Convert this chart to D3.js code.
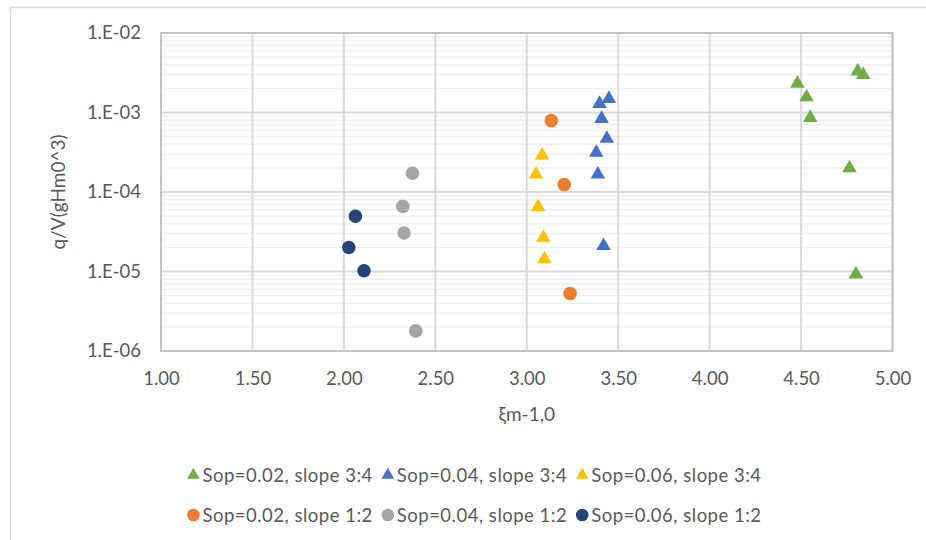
<!DOCTYPE html>
<html>
<head>
<meta charset="utf-8">
<script src="https://cdn.jsdelivr.net/npm/d3@7"></script>
<style>
  body { margin: 0; background: #fff; }
  text { font-family: Lato, "Noto Sans", sans-serif; fill: #595959; }
</style>
</head>
<body>
<div id="chart"></div>
<script>
// Daten
const seriesNames = [
  "Sop=0.02, slope 3:4", "Sop=0.04, slope 3:4", "Sop=0.06, slope 3:4",
  "Sop=0.02, slope 1:2", "Sop=0.04, slope 1:2", "Sop=0.06, slope 1:2"
];
const seriesColors = ["#70AD47", "#4472C4", "#FFC000", "#ED7D31", "#A5A5A5", "#264478"];
const seriesShapes = ["triangle", "triangle", "triangle", "circle", "circle", "circle"];

const sop02s34X = [4.48, 4.53, 4.55, 4.765, 4.80, 4.81, 4.84];
const sop02s34Y = [2.32e-3, 1.56e-3, 8.6e-4, 2.0e-4, 9.25e-6, 3.31e-3, 2.98e-3];
const sop04s34X = [3.398, 3.449, 3.409, 3.438, 3.38, 3.389, 3.42];
const sop04s34Y = [1.29e-3, 1.49e-3, 8.36e-4, 4.69e-4, 3.13e-4, 1.67e-4, 2.1e-5];
const sop06s34X = [3.084, 3.051, 3.062, 3.091, 3.097];
const sop06s34Y = [2.89e-4, 1.67e-4, 6.48e-5, 2.67e-5, 1.43e-5];
const sop02s12X = [3.134, 3.205, 3.237];
const sop02s12Y = [7.9e-4, 1.24e-4, 5.3e-6];
const sop04s12X = [2.375, 2.322, 2.329, 2.393];
const sop04s12Y = [1.72e-4, 6.6e-5, 3.05e-5, 1.79e-6];
const sop06s12X = [2.063, 2.027, 2.11];
const sop06s12Y = [4.95e-5, 2.0e-5, 1.02e-5];

const xTicks = [1, 1.5, 2, 2.5, 3, 3.5, 4, 4.5, 5];
const yTicks = [1e-6, 1e-5, 1e-4, 1e-3, 1e-2];

const allX = [sop02s34X, sop04s34X, sop06s34X, sop02s12X, sop04s12X, sop06s12X];
const allY = [sop02s34Y, sop04s34Y, sop06s34Y, sop02s12Y, sop04s12Y, sop06s12Y];

const series = seriesNames.map((name, i) => ({
  name: name,
  color: seriesColors[i],
  shape: seriesShapes[i],
  values: allX[i].map((x, j) => ({ x: x, y: allY[i][j] }))
}));

const width = 926, height = 540;
const svg = d3.select("#chart").append("svg")
  .attr("width", width)
  .attr("height", height);

// Rahmen des Diagramms
svg.append("rect")
  .attr("x", 10.5).attr("y", 7.5)
  .attr("width", 940).attr("height", 560)
  .attr("fill", "none")
  .attr("stroke", "#D9D9D9")
  .attr("stroke-width", 1.5);

const x = d3.scaleLinear().domain([1, 5]).range([161, 892.5]);
const y = d3.scaleLog().domain([1e-6, 1e-2]).range([351, 33]);

// Nebengitter
const minor = [];
for (let e = -6; e < -2; e++) {
  for (let m = 2; m <= 9; m++) minor.push(m * Math.pow(10, e));
}
svg.append("g").selectAll("line")
  .data(minor)
  .enter().append("line")
  .attr("x1", x(1)).attr("x2", x(5))
  .attr("y1", d => y(d)).attr("y2", d => y(d))
  .attr("stroke", "#F0F0F0")
  .attr("stroke-width", 1.5);

// Hauptgitter
svg.append("g").selectAll("line")
  .data(yTicks)
  .enter().append("line")
  .attr("x1", x(1)).attr("x2", x(5))
  .attr("y1", d => y(d)).attr("y2", d => y(d))
  .attr("stroke", "#D9D9D9")
  .attr("stroke-width", 2);

svg.append("g").selectAll("line")
  .data(xTicks)
  .enter().append("line")
  .attr("x1", d => x(d)).attr("x2", d => x(d))
  .attr("y1", y(1e-2)).attr("y2", y(1e-6))
  .attr("stroke", "#D9D9D9")
  .attr("stroke-width", 2);

svg.append("rect")
  .attr("x", x(1)).attr("y", y(1e-2))
  .attr("width", x(5) - x(1)).attr("height", y(1e-6) - y(1e-2))
  .attr("fill", "none")
  .attr("stroke", "#C4C4C4")
  .attr("stroke-width", 2);

// Achsen (nur Beschriftung)
const xAxis = svg.append("g")
  .attr("transform", `translate(0,${y(1e-6) + 20})`)
  .call(d3.axisBottom(x).tickValues(xTicks).tickFormat(d3.format(".2f")).tickSize(0));
xAxis.select(".domain").remove();
xAxis.selectAll("text").style("font-size", "18.5px").attr("dy", "0.32em").attr("y", 8);

const yAxis = svg.append("g")
  .attr("transform", `translate(${x(1) - 20},0)`)
  .call(d3.axisLeft(y).tickValues(yTicks).tickFormat(d => "1.E-0" + Math.round(-Math.log10(d))).tickSize(0));
yAxis.select(".domain").remove();
yAxis.selectAll("text").style("font-size", "18.5px").attr("x", 0);

// Achsentitel
svg.append("text")
  .attr("x", (x(1) + x(5)) / 2)
  .attr("y", 413)
  .attr("text-anchor", "middle")
  .attr("dominant-baseline", "central")
  .style("font-size", "19px")
  .text("ξm-1,0");

svg.append("text")
  .attr("transform", `translate(57,${(y(1e-2) + y(1e-6)) / 2}) rotate(-90)`)
  .attr("text-anchor", "middle")
  .attr("dominant-baseline", "central")
  .style("font-size", "19px")
  .text("q/V(gHm0^3)");

// Punkte
const symbolFor = s => s === "triangle"
  ? d3.symbol().type(d3.symbolTriangle).size(92)
  : d3.symbol().type(d3.symbolCircle).size(145);

series.forEach(s => {
  svg.append("g").selectAll("path")
    .data(s.values)
    .enter().append("path")
    .attr("d", symbolFor(s.shape))
    .attr("transform", d => `translate(${x(d.x)},${y(d.y)})`)
    .attr("fill", s.color);
});

// Legende
const rows = [series.slice(0, 3), series.slice(3, 6)];
const rowY = [475, 515];
const legendCenter = 479;
rows.forEach((row, r) => {
  const g = svg.append("g");
  let cx = 0;
  row.forEach(s => {
    const item = g.append("g").attr("transform", `translate(${cx},${rowY[r]})`);
    item.append("path")
      .attr("d", s.shape === "triangle"
        ? d3.symbol().type(d3.symbolTriangle).size(70)()
        : d3.symbol().type(d3.symbolCircle).size(125)())
      .attr("transform", "translate(6,0)")
      .attr("fill", s.color);
    const t = item.append("text")
      .attr("x", 15)
      .attr("dominant-baseline", "central")
      .style("font-size", "18.5px")
      .style("letter-spacing", "0.5px")
      .text(s.name);
    cx += 15 + t.node().getComputedTextLength() + 9;
  });
  g.attr("transform", `translate(${legendCenter - cx / 2},0)`);
});
</script>
</body>
</html>
